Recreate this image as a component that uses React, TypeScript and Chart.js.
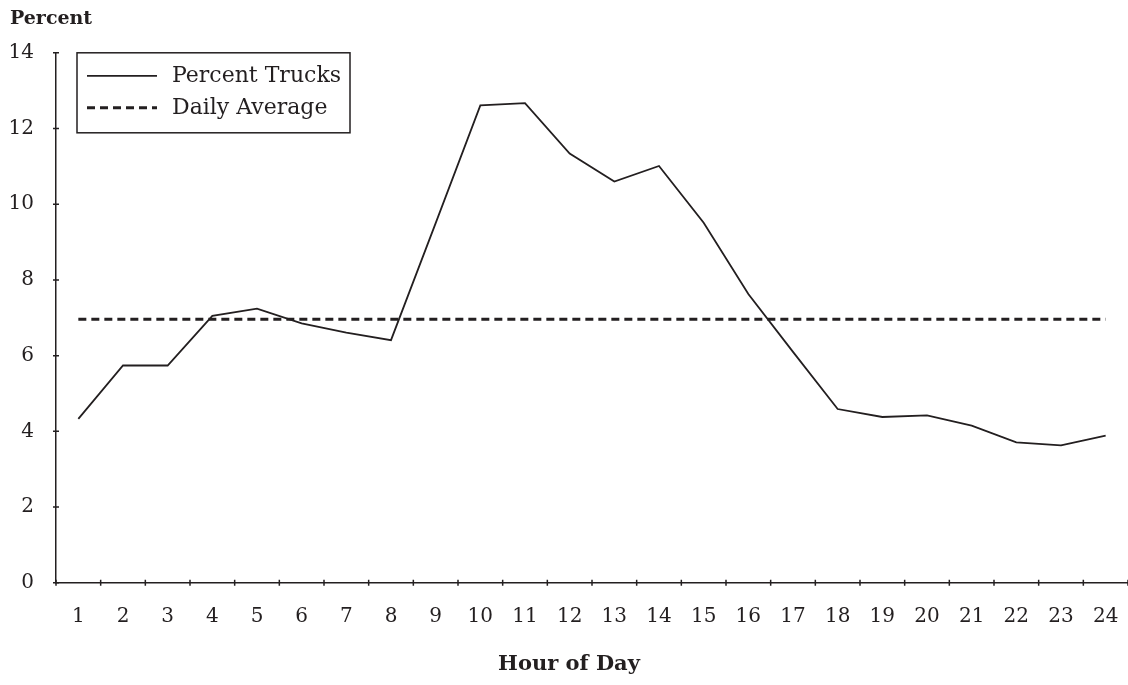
import React, { useEffect, useRef } from "react";
import { Chart, registerables } from "chart.js";

Chart.register(...registerables);

const hours = ["1","2","3","4","5","6","7","8","9","10","11","12","13","14","15","16","17","18","19","20","21","22","23","24"];
const percentTrucks = [4.33, 5.74, 5.74, 7.05, 7.24, 6.85, 6.61, 6.41, 9.5, 12.61, 12.67, 11.34, 10.6, 11.01, 9.51, 7.63, 6.1, 4.59, 4.38, 4.42, 4.15, 3.71, 3.63, 3.89];
const dailyAverageValue = 6.96;
const dailyAverage = hours.map(() => dailyAverageValue);
const seriesNames = ["Percent Trucks", "Daily Average"];

const INK = "#231f20";
const FONT = "'DejaVu Serif', 'Liberation Serif', serif";

const crossTicks = {
  id: "crossTicks",
  afterDraw(chart: any) {
    const ctx = chart.ctx;
    const xs = chart.scales.x;
    const ys = chart.scales.y;
    ctx.save();
    ctx.strokeStyle = INK;
    ctx.lineWidth = 1.5;
    ctx.beginPath();
    for (let i = 0; i <= hours.length; i++) {
      const px = xs.getPixelForValue(i - 0.5);
      ctx.moveTo(px, xs.top - 3);
      ctx.lineTo(px, xs.top + 3);
    }
    ys.ticks.forEach((t: any) => {
      const py = ys.getPixelForValue(t.value);
      ctx.moveTo(ys.right - 3, py);
      ctx.lineTo(ys.right + 3, py);
    });
    ctx.stroke();

    // legend box
    const area = chart.chartArea;
    const bx = area.left + 21;
    const by = area.top;
    const bw = 273;
    const bh = 80;
    ctx.lineWidth = 1.5;
    ctx.strokeRect(bx, by, bw, bh);
    const rows = [
      { name: seriesNames[0], dash: [] as number[], width: 1.8 },
      { name: seriesNames[1], dash: [8, 5], width: 3 },
    ];
    ctx.font = "22px " + FONT;
    ctx.fillStyle = INK;
    ctx.textBaseline = "middle";
    ctx.textAlign = "left";
    rows.forEach((r, i) => {
      const cy = by + 23 + i * 32;
      ctx.beginPath();
      ctx.setLineDash(r.dash);
      ctx.lineWidth = r.width;
      ctx.moveTo(bx + 10, cy);
      ctx.lineTo(bx + 80, cy);
      ctx.stroke();
      ctx.setLineDash([]);
      ctx.fillText(r.name, bx + 95, cy);
    });
    ctx.restore();
  },
};

export default function App() {
  const ref = useRef<HTMLCanvasElement | null>(null);
  useEffect(() => {
    if (!ref.current) return;
    const chart = new Chart(ref.current, {
      type: "line",
      data: {
        labels: hours,
        datasets: [
          {
            label: seriesNames[0],
            data: percentTrucks,
            borderColor: INK,
            borderWidth: 1.8,
            pointRadius: 0,
            tension: 0,
            fill: false,
          },
          {
            label: seriesNames[1],
            data: dailyAverage,
            borderColor: INK,
            borderWidth: 3,
            borderDash: [8, 5],
            pointRadius: 0,
            fill: false,
          },
        ],
      },
      options: {
        animation: false,
        responsive: false,
        maintainAspectRatio: false,
        layout: { padding: { left: 10, right: 0, top: 0, bottom: 0 } },
        plugins: {
          legend: { display: false },
          tooltip: { enabled: false },
          title: {
            display: true,
            text: "Percent",
            align: "start",
            color: INK,
            font: { family: FONT, size: 19, weight: "bold", lineHeight: 1.2 },
            padding: { top: 8, bottom: 22 },
          },
          subtitle: {
            display: true,
            position: "bottom",
            text: "Hour of Day",
            align: "center",
            color: INK,
            font: { family: FONT, size: 21, weight: "bold", lineHeight: 1.2 },
            padding: { top: 4, bottom: 8 },
          },
        },
        scales: {
          x: {
            offset: true,
            grid: { display: false, drawTicks: false, offset: true },
            border: { display: true, color: INK, width: 1.5 },
            ticks: {
              color: INK,
              font: { family: FONT, size: 20 },
              padding: 22,
              maxRotation: 0,
              autoSkip: false,
            },
            afterFit: (s: any) => {
              s.height = 65;
              s.paddingRight = 0;
              s.paddingLeft = 0;
            },
          },
          y: {
            min: 0,
            max: 14,
            grid: { display: false, drawTicks: false },
            border: { display: true, color: INK, width: 1.5 },
            ticks: {
              stepSize: 2,
              color: INK,
              font: { family: FONT, size: 20 },
              padding: 22,
            },
            afterFit: (s: any) => {
              s.width = 46;
            },
          },
        },
      },
      plugins: [crossTicks],
    });
    return () => chart.destroy();
  }, []);
  return (
    <div style={{ position: "absolute", left: 0, top: 0, width: 1128, height: 685, background: "#fff" }}>
      <canvas ref={ref} width={1128} height={685} style={{ display: "block" }} />
    </div>
  );
}
